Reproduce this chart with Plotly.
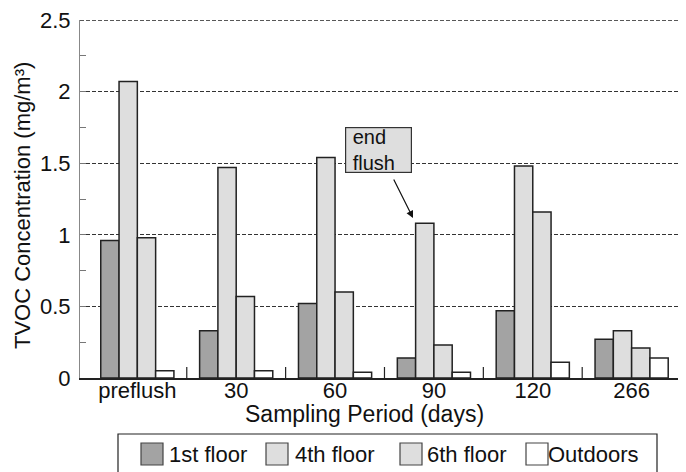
import plotly.graph_objects as go

# ---- data ----
periods = ["preflush", "30", "60", "90", "120", "266"]
series_names = ["1st floor", "4th floor", "6th floor", "Outdoors"]
floor1 = [0.96, 0.33, 0.52, 0.14, 0.47, 0.27]
floor4 = [2.07, 1.47, 1.54, 1.08, 1.48, 0.33]
floor6 = [0.98, 0.57, 0.60, 0.23, 1.16, 0.21]
outdoors = [0.05, 0.05, 0.04, 0.04, 0.11, 0.14]
y_ticks = [0, 0.5, 1, 1.5, 2, 2.5]

# ---- styling ----
fills = ["#a3a3a3", "#dedede", "#dedede", "#ffffff"]
edge = "#222222"
FONT = "Liberation Sans, Arial, Helvetica, sans-serif"
FS = 22
GRID_DASH = "4px,2px"

# the page body adds an 8px margin, so the figure is drawn 8px smaller and
# all screen positions below are converted with OFF
OFF = 8
SW, SH = 686, 472              # screen size
W, H = SW - OFF, SH - OFF      # figure size
PL, PR, PT, PB = 80, 686, 20, 378   # plot area in screen pixels
ML, MT = PL - OFF, PT - OFF
MR = W - (PR - OFF)
MB = H - (PB - OFF)
PW, PH = PR - PL, PB - PT
XR = [-0.58, 5.55]
YR = [0, 2.5]


def px2paper_x(px):
    return (px - PL) / PW


def py2paper_y(py):
    return (PB - py) / PH


def px2data_x(px):
    return XR[0] + (px - PL) / PW * (XR[1] - XR[0])


def py2data_y(py):
    return YR[0] + (PB - py) / PH * (YR[1] - YR[0])


fig = go.Figure()
for name, vals, col in zip(series_names, [floor1, floor4, floor6, outdoors], fills):
    fig.add_trace(go.Bar(
        x=periods, y=vals, name=name,
        marker=dict(color=col, line=dict(color=edge, width=1.5)),
        showlegend=False,
    ))

shapes = []
# top dashed line at the upper end of the value range
shapes.append(dict(type="line", xref="paper", yref="y", x0=0, x1=1,
                   y0=YR[1], y1=YR[1], line=dict(color="#222222", width=1.5, dash=GRID_DASH)))
# crossing ticks at category boundaries
for i in range(len(periods) - 1):
    shapes.append(dict(type="line", xref="x", yref="y", ysizemode="pixel",
                       yanchor=0, x0=i + 0.5, x1=i + 0.5, y0=-6, y1=11,
                       line=dict(color=edge, width=1.2)))

# legend box (drawn manually to match the large square swatches)
shapes.append(dict(type="rect", xref="paper", yref="paper",
                   x0=px2paper_x(118), x1=px2paper_x(657),
                   y0=py2paper_y(500), y1=py2paper_y(434),
                   line=dict(color=edge, width=1.2), fillcolor="rgba(0,0,0,0)"))

annotations = []
sw_x = [141, 266, 400, 526]
txt_x = [167, 293, 425, 546]
sw = 22
for name, col, sx, tx in zip(series_names, fills, sw_x, txt_x):
    shapes.append(dict(type="rect", xref="paper", yref="paper",
                       x0=px2paper_x(sx), x1=px2paper_x(sx + sw),
                       y0=py2paper_y(443 + sw), y1=py2paper_y(443),
                       line=dict(color="#444444", width=1.2), fillcolor=col))
    annotations.append(dict(text=name, xref="paper", yref="paper",
                            x=px2paper_x(tx), y=py2paper_y(454),
                            xanchor="left", yanchor="middle", showarrow=False,
                            font=dict(family=FONT, size=FS, color="#111111")))

# axis titles
annotations.append(dict(text="Sampling Period (days)", xref="paper", yref="paper",
                        x=px2paper_x(364.5), y=py2paper_y(414),
                        xanchor="center", yanchor="middle", showarrow=False,
                        font=dict(family=FONT, size=23, color="#111111")))
annotations.append(dict(text="TVOC Concentration (mg/m³)", xref="paper", yref="paper",
                        x=px2paper_x(23), y=py2paper_y(206), textangle=-90,
                        xanchor="center", yanchor="middle", showarrow=False,
                        font=dict(family=FONT, size=FS, color="#111111")))

# "end flush" callout
annotations.append(dict(text="&nbsp;end<br>&nbsp;flush", xref="x", yref="y",
                        x=px2data_x(378.5), y=py2data_y(149.5),
                        xanchor="center", yanchor="middle", showarrow=False,
                        align="left", width=63, height=42, borderpad=1,
                        bgcolor="#dedede", bordercolor="#333333", borderwidth=1.2,
                        font=dict(family=FONT, size=20, color="#111111")))
annotations.append(dict(text="", xref="x", yref="y",
                        x=px2data_x(413), y=py2data_y(218),
                        ax=-20, ay=-40, showarrow=True,
                        arrowhead=2, arrowsize=1.2, arrowwidth=1.2, arrowcolor="#111111"))

fig.update_layout(
    width=W, height=H,
    margin=dict(l=ML, r=MR, t=MT, b=MB, pad=0, autoexpand=False),
    paper_bgcolor="white", plot_bgcolor="white",
    barmode="group", bargap=0.26, bargroupgap=0,
    font=dict(family=FONT, size=FS, color="#111111"),
    shapes=shapes, annotations=annotations,
    xaxis=dict(type="category", range=XR, showgrid=False, zeroline=False,
               automargin=False, ticklabeloverflow="allow", ticklabelstandoff=-8,
               showline=True, linecolor=edge, linewidth=2, ticks="",
               tickfont=dict(family=FONT, size=FS, color="#111111")),
    yaxis=dict(range=YR, tickvals=y_ticks, ticks="inside", ticklen=6,
               automargin=False, ticklabeloverflow="allow", ticklabelstandoff=4,
               tickcolor="#777777", showline=True, linecolor="#888888", linewidth=1,
               showgrid=True, gridcolor="#333333", gridwidth=1, griddash=GRID_DASH,
               zeroline=False,
               minor=dict(dtick=0.25, ticks="inside", ticklen=6, tickcolor="#777777",
                          showgrid=False),
               tickfont=dict(family=FONT, size=FS, color="#111111")),
)

fig.write_html("out.html")
